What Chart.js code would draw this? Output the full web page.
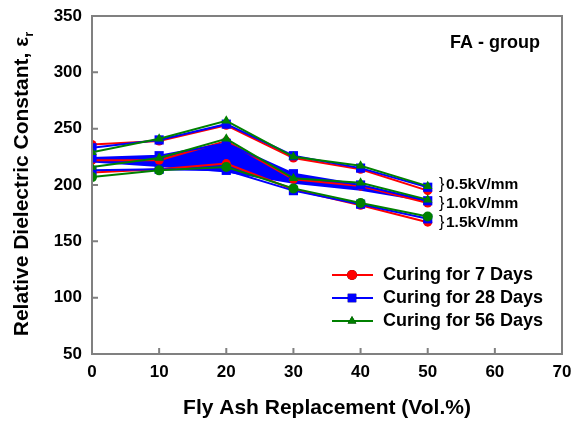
<!DOCTYPE html>
<html>
<head>
<meta charset="utf-8">
<script src="https://cdn.jsdelivr.net/npm/chart.js@4.4.1/dist/chart.umd.min.js"></script>
<style>
  html, body { margin: 0; padding: 0; background: #fff; }
  #wrap { width: 577px; height: 421px; }
</style>
</head>
<body>
<div id="wrap"><canvas id="chart" width="577" height="421"></canvas></div>
<script>
/* FA-group dielectric constant chart */

const FLY_ASH = [0, 10, 20, 30, 40, 50];
const X_TICKS = [0, 10, 20, 30, 40, 50, 60, 70];
const Y_TICKS = [50, 100, 150, 200, 250, 300, 350];

// curing 7 days
const D7_05 = [236, 239, 253, 224, 214, 195];
const D7_10 = [222, 222, 239, 205, 199, 184];
const D7_15 = [211, 214, 219, 196, 182, 167];
// curing 28 days
const D28_05 = [233, 240, 254, 226, 215, 198];
const D28_10 = [224, 226, 237, 210, 200, 186];
const D28_15 = [213, 214, 213, 195, 183, 170];
// curing 56 days
const D56_05 = [229, 241, 257, 225, 217, 199];
const D56_10 = [216, 224, 241, 206, 202, 187];
const D56_15 = [207, 213, 216, 197, 184, 172];
// lower edge of the blue band
const BAND_LOW = [220, 216, 211, 201, 195, 185];

const LEGEND = ["Curing for 7 Days", "Curing for 28 Days", "Curing for 56 Days"];
const FIELDS = ["0.5kV/mm", "1.0kV/mm", "1.5kV/mm"];

const RED = "#ff0000", BLUE = "#0000ff", GREEN = "#008000", AXIS = "#808080";
const FONT = "Arial, 'Liberation Sans', sans-serif";

const pts = (arr) => arr.map((v, i) => ({ x: FLY_ASH[i], y: v }));

function series(data, color, style, radius, order, extra = {}) {
  return Object.assign({
    data: pts(data),
    borderColor: color,
    backgroundColor: color,
    borderWidth: 2,
    pointStyle: style,
    pointRadius: radius,
    pointHoverRadius: radius,
    pointBorderWidth: 0,
    tension: 0,
    fill: false,
    order,
  }, extra);
}

/* ── Inner ticks, frame and text ─────────────────────── */
const decor = {
  id: "decor",
  afterDraw(chart) {
    const { ctx, chartArea: a, scales } = chart;
    ctx.save();
    ctx.strokeStyle = AXIS;
    ctx.lineWidth = 2;
    ctx.strokeRect(a.left, a.top, a.right - a.left, a.bottom - a.top);
    ctx.beginPath();
    X_TICKS.forEach((t) => {
      const x = scales.x.getPixelForValue(t);
      ctx.moveTo(x, a.bottom); ctx.lineTo(x, a.bottom - 6);
    });
    Y_TICKS.forEach((t) => {
      const y = scales.y.getPixelForValue(t);
      ctx.moveTo(a.left, y); ctx.lineTo(a.left + 6, y);
    });
    ctx.stroke();

    ctx.fillStyle = "#000";
    ctx.textBaseline = "middle";

    // axis titles
    ctx.font = "bold 21px " + FONT;
    ctx.textAlign = "center";
    ctx.fillText("Fly Ash Replacement (Vol.%)", (a.left + a.right) / 2, 408);

    ctx.save();
    ctx.translate(22, 184);
    ctx.rotate(-Math.PI / 2);
    const main = "Relative Dielectric Constant, \u03b5";
    ctx.font = "bold 21px " + FONT;
    const w1 = ctx.measureText(main).width;
    ctx.font = "bold 13px " + FONT;
    const w2 = ctx.measureText("r").width;
    const sx = -(w1 + w2) / 2;
    ctx.textAlign = "left";
    ctx.font = "bold 21px " + FONT;
    ctx.fillText(main, sx, 0);
    ctx.font = "bold 13px " + FONT;
    ctx.fillText("r", sx + w1, 7);
    ctx.restore();

    // group label
    ctx.font = "bold 18px " + FONT;
    ctx.textAlign = "left";
    ctx.fillText("FA - group", 450, 43);

    // field brackets
    [185, 204, 223].forEach((y, i) => {
      ctx.font = "16px " + FONT;
      ctx.fillText("}", 439, y);
      ctx.font = "bold 15.5px " + FONT;
      ctx.fillText(FIELDS[i], 446, y);
    });

    // legend
    const colors = [RED, BLUE, GREEN];
    const styles = ["circle", "rect", "triangle"];
    [275, 298, 321].forEach((y, i) => {
      ctx.strokeStyle = colors[i];
      ctx.lineWidth = 2;
      ctx.beginPath(); ctx.moveTo(332, y); ctx.lineTo(373, y); ctx.stroke();
      Chart.helpers.drawPoint(ctx, {
        pointStyle: styles[i], radius: i === 1 ? 6 : 5, borderWidth: 0, rotation: 0,
      }, 352, y);
      ctx.fillStyle = colors[i];
      ctx.fill();
      ctx.fillStyle = "#000";
      ctx.font = "bold 18px " + FONT;
      ctx.fillText(LEGEND[i], 383, y);
    });
    ctx.restore();
  },
};

/* ── Chart ────────────────────────────────────────────── */
const datasets = [
  series(BAND_LOW, "rgba(0,0,0,0)", "circle", 0, 10, { borderWidth: 0 }),
  series(D7_05, RED, "circle", 4.5, 3),
  series(D7_10, RED, "circle", 4.5, 3),
  series(D7_15, RED, "circle", 4.5, 3),
  series(D28_05, BLUE, "rect", 6.5, 2),
  series(D28_10, BLUE, "rect", 6.5, 2, { fill: { target: 0 }, backgroundColor: BLUE }),
  series(D28_15, BLUE, "rect", 6.5, 2),
  series(D56_05, GREEN, "triangle", 5.5, 1),
  series(D56_10, GREEN, "triangle", 5.5, 1),
  series(D56_15, GREEN, "circle", 5, 1),
];

new Chart(document.getElementById("chart"), {
  type: "line",
  data: { datasets },
  options: {
    responsive: false,
    animation: false,
    events: [],
    layout: { padding: { left: 0, top: 16, right: 15, bottom: 0 } },
    plugins: {
      legend: { display: false },
      tooltip: { enabled: false },
      filler: { drawTime: "beforeDatasetsDraw" },
    },
    scales: {
      x: {
        type: "linear", min: 0, max: 70,
        afterBuildTicks: (s) => { s.ticks = X_TICKS.map((v) => ({ value: v })); },
        afterFit: (s) => { s.height = 67; },
        grid: { display: false },
        border: { display: false },
        ticks: { color: "#000", padding: 0, font: { family: FONT, size: 17, weight: "bold" } },
      },
      y: {
        type: "linear", min: 50, max: 350,
        afterBuildTicks: (s) => { s.ticks = Y_TICKS.map((v) => ({ value: v })); },
        afterFit: (s) => { s.width = 92; },
        grid: { display: false },
        border: { display: false },
        ticks: { color: "#000", padding: 2, font: { family: FONT, size: 17, weight: "bold" } },
      },
    },
  },
  plugins: [decor],
});
</script>
</body>
</html>
